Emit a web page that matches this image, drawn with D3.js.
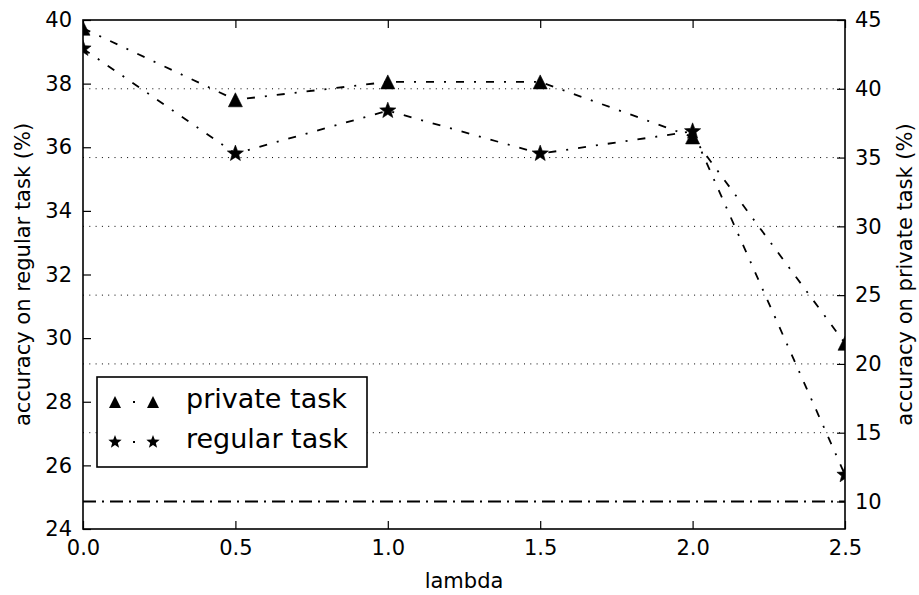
<!DOCTYPE html>
<html>
<head>
<meta charset="utf-8">
<script src="https://cdn.jsdelivr.net/npm/d3@7"></script>
<style>
  body { margin: 0; background: #fff; }
  text { font-family: "DejaVu Sans", sans-serif; }
</style>
</head>
<body>
<script>
// values
var lambdas = [0, 0.5, 1.0, 1.5, 2.0, 2.5];
var privateAcc = [44.4, 39.2, 40.5, 40.5, 36.5, 21.5];   // right axis
var regularAcc = [39.1, 35.8, 37.15, 35.8, 36.5, 25.7];  // left axis
var chanceLevel = 10;                                    // right axis
var xTicks = [0, 0.5, 1.0, 1.5, 2.0, 2.5];
var leftTicks = [24, 26, 28, 30, 32, 34, 36, 38, 40];
var rightTicks = [10, 15, 20, 25, 30, 35, 40, 45];
var gridTicks = [15, 20, 25, 30, 35, 40];

var W = 919, H = 595;
var L = 83, R = 845, T = 20, B = 529;

var x = d3.scaleLinear().domain([0, 2.5]).range([L, R]);
var yL = d3.scaleLinear().domain([24, 40]).range([B, T]);
var yR = d3.scaleLinear().domain([8, 45]).range([B, T]);

var svg = d3.select("body").append("svg")
    .attr("width", W)
    .attr("height", H);

svg.append("defs").append("clipPath").attr("id", "plotclip")
  .append("rect").attr("x", L).attr("y", T).attr("width", R - L).attr("height", B - T);

// dotted grid from right axis ticks
svg.append("g").selectAll("line")
    .data(gridTicks)
    .enter().append("line")
    .attr("x1", L).attr("x2", R)
    .attr("y1", function(d) { return yR(d); })
    .attr("y2", function(d) { return yR(d); })
    .attr("stroke", "#000")
    .attr("stroke-width", 1)
    .attr("stroke-dasharray", "1,5.3");

// chance level line
svg.append("line")
    .attr("x1", L).attr("x2", R)
    .attr("y1", yR(chanceLevel)).attr("y2", yR(chanceLevel))
    .attr("stroke", "#000")
    .attr("stroke-width", 2)
    .attr("stroke-dasharray", "13,6,2,6");

function triPath(s) {
    return "M0," + (-s) + "L" + s + "," + s + "L" + (-s) + "," + s + "Z";
}
function starPath(r) {
    var ri = r * 0.42, p = [];
    for (var i = 0; i < 10; i++) {
        var a = -Math.PI / 2 + i * Math.PI / 5;
        var rr = i % 2 ? ri : r;
        p.push([rr * Math.cos(a), rr * Math.sin(a)]);
    }
    return "M" + p.join("L") + "Z";
}

var plot = svg.append("g").attr("clip-path", "url(#plotclip)");

var series = [
    {name: "private task", vals: privateAcc, y: yR, marker: triPath(7)},
    {name: "regular task", vals: regularAcc, y: yL, marker: starPath(8.5)}
];

series.forEach(function(s) {
    var line = d3.line()
        .x(function(d, i) { return x(lambdas[i]); })
        .y(function(d) { return s.y(d); });
    plot.append("path")
        .attr("d", line(s.vals))
        .attr("fill", "none")
        .attr("stroke", "#000")
        .attr("stroke-width", 1.8)
        .attr("stroke-dasharray", "8,10,2,10");
    plot.selectAll(null)
        .data(s.vals)
        .enter().append("path")
        .attr("d", s.marker)
        .attr("transform", function(d, i) { return "translate(" + x(lambdas[i]) + "," + s.y(d) + ")"; })
        .attr("fill", "#000")
        .attr("stroke", "#000")
        .attr("stroke-width", 0.6);
});

// axes, ticks pointing inward
function styleAxis(g) {
    g.select(".domain").remove();
    g.selectAll(".tick line").attr("stroke", "#000").attr("stroke-width", 1.2);
    g.selectAll("text").attr("font-family", "DejaVu Sans").attr("font-size", 21).attr("fill", "#000");
}

svg.append("g")
    .attr("transform", "translate(0," + B + ")")
    .call(d3.axisBottom(x).tickValues(xTicks).tickSize(-8).tickPadding(11).tickFormat(d3.format(".1f")))
    .call(styleAxis);

svg.append("g")
    .attr("transform", "translate(0," + T + ")")
    .call(d3.axisTop(x).tickValues(xTicks).tickSize(-8).tickFormat(""))
    .call(styleAxis);

svg.append("g")
    .attr("transform", "translate(" + L + ",0)")
    .call(d3.axisLeft(yL).tickValues(leftTicks).tickSize(-8).tickPadding(11))
    .call(styleAxis);

svg.append("g")
    .attr("transform", "translate(" + R + ",0)")
    .call(d3.axisRight(yR).tickValues(rightTicks).tickSize(-8).tickPadding(10))
    .call(styleAxis);

// frame
svg.append("rect")
    .attr("x", L).attr("y", T)
    .attr("width", R - L).attr("height", B - T)
    .attr("fill", "none")
    .attr("stroke", "#000")
    .attr("stroke-width", 1.6);

// axis labels
svg.append("text")
    .attr("x", (L + R) / 2).attr("y", 588)
    .attr("text-anchor", "middle")
    .attr("font-size", 21)
    .text("lambda");

svg.append("text")
    .attr("transform", "translate(30," + ((T + B) / 2) + ") rotate(-90)")
    .attr("text-anchor", "middle")
    .attr("font-size", 21)
    .text("accuracy on regular task (%)");

svg.append("text")
    .attr("transform", "translate(912," + ((T + B) / 2) + ") rotate(-90)")
    .attr("text-anchor", "middle")
    .attr("font-size", 21)
    .text("accuracy on private task (%)");

// legend
var lg = svg.append("g");
lg.append("rect")
    .attr("x", 97).attr("y", 377)
    .attr("width", 270).attr("height", 90)
    .attr("fill", "#fff")
    .attr("stroke", "#000")
    .attr("stroke-width", 1.6);

series.forEach(function(s, i) {
    var cy = 402 + i * 40;
    lg.append("line")
        .attr("x1", 115).attr("x2", 153)
        .attr("y1", cy).attr("y2", cy)
        .attr("stroke", "#000")
        .attr("stroke-width", 1.8)
        .attr("stroke-dasharray", "0,18,2,30");
    [115, 153].forEach(function(mx) {
        lg.append("path")
            .attr("d", i === 0 ? triPath(6) : starPath(7))
            .attr("transform", "translate(" + mx + "," + cy + ")")
            .attr("fill", "#000");
    });
    lg.append("text")
        .attr("x", 186).attr("y", cy + 6)
        .attr("font-size", 27)
        .text(s.name);
});
</script>
</body>
</html>
